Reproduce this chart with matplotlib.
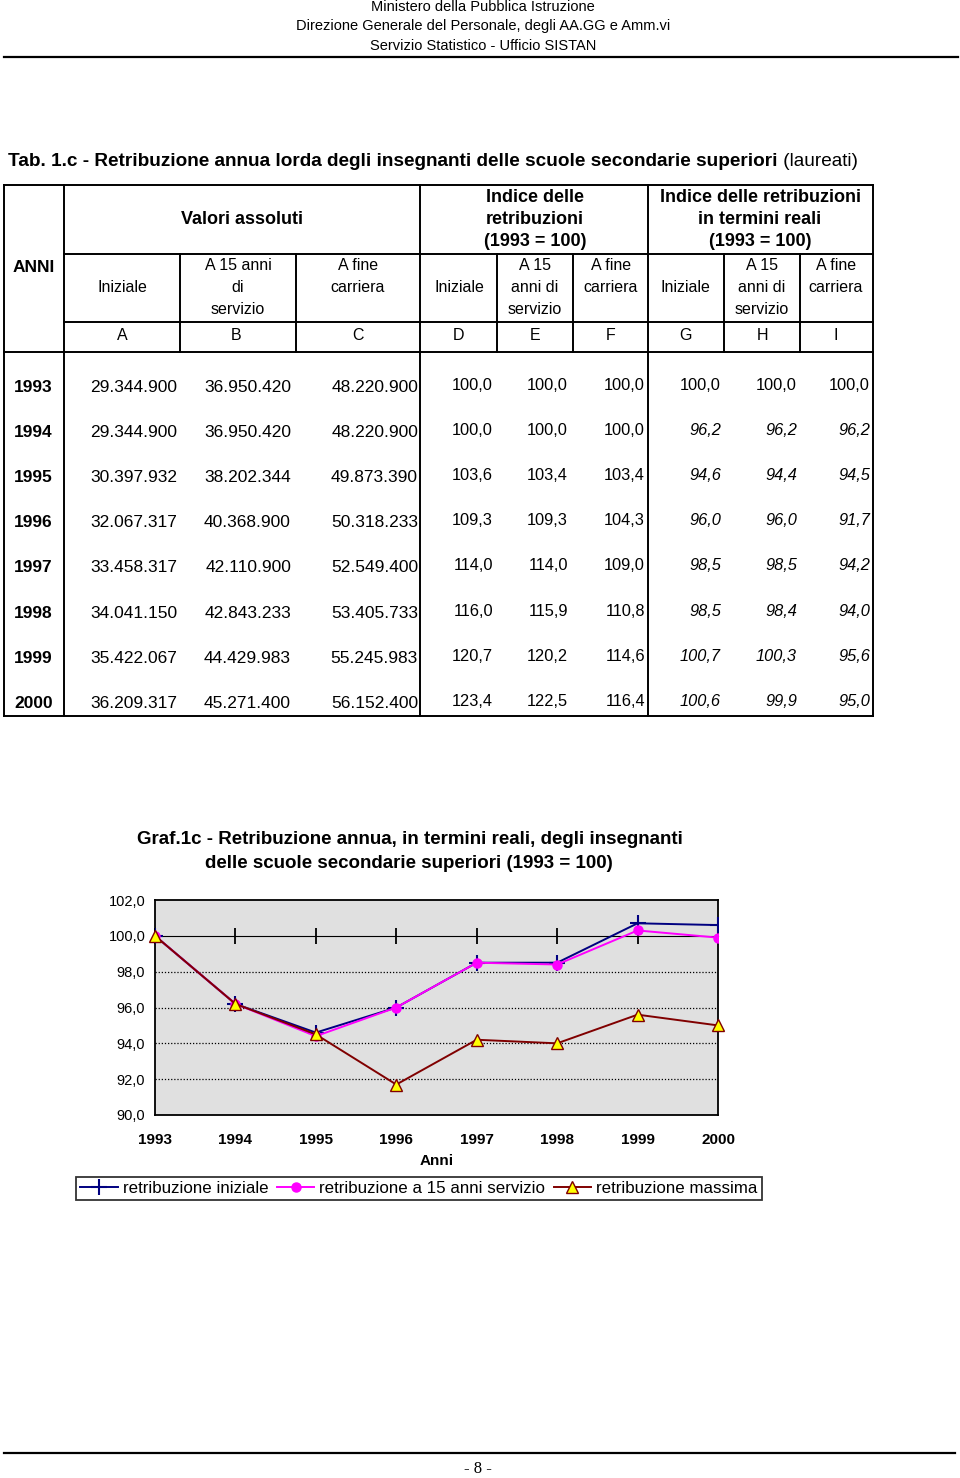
import matplotlib.pyplot as plt
from matplotlib.lines import Line2D

# ---- data -------------------------------------------------------------
years = [1993, 1994, 1995, 1996, 1997, 1998, 1999, 2000]
abs_iniziale = [29344900, 29344900, 30397932, 32067317, 33458317, 34041150, 35422067, 36209317]
abs_15anni = [36950420, 36950420, 38202344, 40368900, 42110900, 42843233, 44429983, 45271400]
abs_fine = [48220900, 48220900, 49873390, 50318233, 52549400, 53405733, 55245983, 56152400]
idx_iniziale = [100.0, 100.0, 103.6, 109.3, 114.0, 116.0, 120.7, 123.4]
idx_15anni = [100.0, 100.0, 103.4, 109.3, 114.0, 115.9, 120.2, 122.5]
idx_fine = [100.0, 100.0, 103.4, 104.3, 109.0, 110.8, 114.6, 116.4]
real_iniziale = [100.0, 96.2, 94.6, 96.0, 98.5, 98.5, 100.7, 100.6]
real_15anni = [100.0, 96.2, 94.4, 96.0, 98.5, 98.4, 100.3, 99.9]
real_fine = [100.0, 96.2, 94.5, 91.7, 94.2, 94.0, 95.6, 95.0]
col_letters = ["A", "B", "C", "D", "E", "F", "G", "H", "I"]
series_labels = ["retribuzione iniziale", "retribuzione a 15 anni servizio", "retribuzione massima"]

SANS = ["Liberation Sans", "DejaVu Sans"]
plt.rcParams["font.family"] = SANS

W, H = 960, 1478
fig = plt.figure(figsize=(W / 100, H / 100), dpi=100)
page = fig.add_axes([0, 0, 1, 1])
page.set_xlim(0, W)
page.set_ylim(H, 0)
page.axis("off")


def hline(y, x0, x1, lw=1.4):
    page.plot([x0, x1], [y, y], color="black", lw=lw, solid_capstyle="projecting")


def vline(x, y0, y1, lw=1.4):
    page.plot([x, x], [y0, y1], color="black", lw=lw, solid_capstyle="projecting")


def txt(x, y, s, size=12, ha="center", weight="normal", style="normal"):
    return page.text(x, y, s, fontsize=size, ha=ha, va="center", fontweight=weight,
                     fontstyle=style)


# ---- page header ------------------------------------------------------
txt(483, 7, "Ministero della Pubblica Istruzione", size=10.5)
txt(483, 26, "Direzione Generale del Personale, degli AA.GG e Amm.vi", size=10.5)
txt(483, 46, "Servizio Statistico - Ufficio SISTAN", size=10.5)
hline(57, 4, 958, lw=1.6)

title = page.text(8, 161, "Tab. 1.c - Retribuzione annua lorda degli insegnanti delle scuole secondarie superiori",
                  fontsize=13.7, fontweight="bold", ha="left", va="center")
page.annotate(" (laureati)", xy=(1, 0.5), xycoords=title, fontsize=13.7, ha="left", va="center")

# ---- table grid -------------------------------------------------------
L, R, T, B = 4, 873, 185, 716
hline(T, L, R)
hline(B, L, R)
vline(L, T, B)
vline(R, T, B)
vline(64, T, B)
vline(420, T, B)
vline(648, T, B)
hline(254, 64, R)
hline(322, 64, R)
hline(352, L, R)
for x in [180, 296, 497, 573, 724, 800]:
    vline(x, 254, 352)

# header texts
txt(34, 267, "ANNI", size=12.5, weight="bold")
txt(242, 220, "Valori assoluti", size=13, weight="bold")
for cx, lines in [(535, ["Indice delle", "retribuzioni", "(1993 = 100)"]),
                  (760, ["Indice delle retribuzioni", "in termini reali", "(1993 = 100)"])]:
    for k, s in enumerate(lines):
        txt(cx, 198 + 22 * k, s, size=13, weight="bold")

sub_heads = [
    (122, ["Iniziale"]), (238, ["A 15 anni", "di", "servizio"]), (358, ["A fine", "carriera"]),
    (459, ["Iniziale"]), (535, ["A 15", "anni di", "servizio"]), (611, ["A fine", "carriera"]),
    (685, ["Iniziale"]), (762, ["A 15", "anni di", "servizio"]), (836, ["A fine", "carriera"]),
]
for cx, lines in sub_heads:
    y0 = 288 if len(lines) == 1 else 266
    for k, s in enumerate(lines):
        txt(cx, y0 + 21.5 * k, s, size=11.5)

letter_x = [122, 236, 358, 459, 535, 611, 685, 762, 836]
for cx, s in zip(letter_x, col_letters):
    txt(cx, 335, s, size=11.5)


# data rows
def fmt_abs(v):
    return f"{v:,}".replace(",", ".")


def fmt_idx(v):
    return f"{v:.1f}".replace(".", ",")


abs_cols = [(177, abs_iniziale), (291, abs_15anni), (418, abs_fine)]
idx_cols = [(493, idx_iniziale), (568, idx_15anni), (645, idx_fine)]
real_cols = [(721, real_iniziale), (797, real_15anni), (870, real_fine)]
for i, yr in enumerate(years):
    y = 387 + 45.2 * i
    txt(14, y, str(yr), size=12.5, ha="left", weight="bold")
    for rx, col in abs_cols:
        txt(rx, y, fmt_abs(col[i]), size=12.5, ha="right")
    for rx, col in idx_cols:
        txt(rx, y - 2, fmt_idx(col[i]), size=11.8, ha="right")
    for rx, col in real_cols:
        txt(rx, y - 2, fmt_idx(col[i]), size=11.8, ha="right",
            style="normal" if i == 0 else "italic")

# ---- chart ------------------------------------------------------------
txt(410, 839, "Graf.1c - Retribuzione annua, in termini reali, degli insegnanti", size=13.5, weight="bold")
txt(409, 864, "delle scuole secondarie superiori (1993 = 100)", size=13.5, weight="bold")

ax_l, ax_r, ax_t, ax_b = 155, 718, 900, 1115
ax = fig.add_axes([ax_l / W, 1 - ax_b / H, (ax_r - ax_l) / W, (ax_b - ax_t) / H])
ax.set_facecolor("#e0e0e0")
xpos = list(range(len(years)))
yticks = [90, 92, 94, 96, 98, 100, 102]
ax.set_xlim(0, len(years) - 1)
ax.set_ylim(90, 102)
ax.set_yticks(yticks)
ax.set_yticklabels([fmt_idx(v) for v in yticks], fontsize=10.5)
ax.set_xticks(xpos)
ax.set_xticklabels([str(y) for y in years], fontweight="bold", fontsize=11)
ax.tick_params(axis="x", length=0, pad=13)
ax.tick_params(axis="y", length=0, pad=7)
for yv in [92, 94, 96, 98]:
    ax.axhline(yv, color="black", lw=0.9, ls=(0, (1, 1.5)), zorder=1)
for s in ax.spines.values():
    s.set_linewidth(1.3)

# category axis crossing at 100
sec = ax.secondary_xaxis((100 - 90) / (102 - 90))
sec.set_xticks(xpos)
sec.tick_params(direction="inout", length=11, width=1.3, labelbottom=False, labeltop=False)
sec.spines["bottom"].set_linewidth(1.6)

ax.plot(xpos, real_iniziale, color="#000080", lw=1.4, marker="+", ms=12, mew=1.5, zorder=3)
ax.plot(xpos, real_15anni, color="#ff00ff", lw=1.4, marker="o", ms=6.5, mfc="#ff00ff", zorder=4)
ax.plot(xpos, real_fine, color="#800000", lw=1.4, marker="^", ms=8, mfc="#ffff00", mec="#800000",
        mew=1.0, zorder=5, clip_on=False)
ax.set_xlabel("Anni", fontweight="bold", fontsize=11, labelpad=5)

handles = [
    Line2D([], [], color="#000080", lw=1.4, marker="+", ms=12, mew=1.5),
    Line2D([], [], color="#ff00ff", lw=1.4, marker="o", ms=6.5),
    Line2D([], [], color="#800000", lw=1.4, marker="^", ms=8, mfc="#ffff00", mec="#800000"),
]
leg = fig.legend(handles, series_labels, ncol=3, loc="center",
                 bbox_to_anchor=((71 + 767) / 2 / W, 1 - 1188.5 / H),
                 frameon=True, fancybox=False, edgecolor="black",
                 handlelength=2.2, handletextpad=0.3, columnspacing=0.5,
                 borderpad=0.25, prop={"family": SANS, "size": 12.2})
leg.get_frame().set_linewidth(1.3)

# ---- footer -----------------------------------------------------------
hline(1453, 4, 955, lw=1.6)
page.text(478, 1469, "- 8 -", fontsize=12, family=["Liberation Serif", "DejaVu Serif"],
          ha="center", va="center")

fig.savefig("out.png", dpi=100, facecolor="white")
